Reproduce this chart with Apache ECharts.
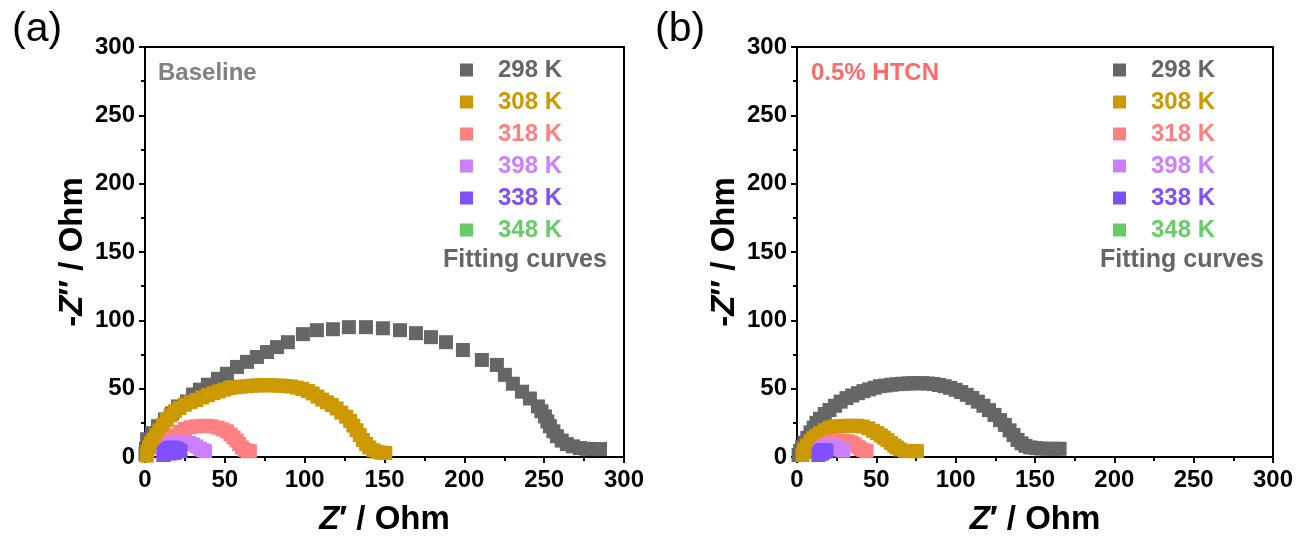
<!DOCTYPE html>
<html>
<head>
<meta charset="utf-8">
<script src="https://cdn.jsdelivr.net/npm/echarts@6/dist/echarts.min.js"></script>
<style>
  html, body { margin: 0; padding: 0; background: #fff; }
  #chart { width: 1301px; height: 541px; }
</style>
</head>
<body>
<div id="chart"></div>
<script>
// Nyquist plots (Z' vs -Z'') at several temperatures, two electrolytes.
const temperatures = ['298 K', '308 K', '318 K', '398 K', '338 K', '348 K'];
const tempColors = ['#666666', '#CC9900', '#FF8080', '#CC80FF', '#8050FF', '#66CC66'];
const axisTicks = [0, 50, 100, 150, 200, 250, 300];

// (a) Baseline electrolyte, [Z', -Z''] in Ohm
const base298 = [[0.3,2],[0.6,6],[1.3,13],[4.4,17.4],[8.1,22.5],[12.5,27.5],[16.9,31.9],[20.7,37],[26.3,40.6],[30.1,45.7],[34.4,49.3],[39.4,52.9],[45.7,57.2],[51.3,60.9],[57.6,65.9],[63.9,69.6],[70.1,73.2],[76.4,76.8],[82.7,80.4],[89.5,84],[98.9,89.9],[107.7,92.8],[117.7,93.5],[127.7,95],[138.4,95],[149,94.2],[159.7,92.8],[169.7,90.6],[179.1,87.7],[188.5,84],[199.1,78.3],[211,71],[220.4,67.4],[225.4,60.1],[230.4,53.6],[236.1,47.8],[241.1,42.8],[246.1,37],[248.3,33.5],[250.5,29.7],[252,26],[253.6,22.5],[255.8,18.8],[258,15.2],[261,12],[264.2,9.4],[268,7.8],[272.4,6.5],[276.5,6],[280.5,5.8],[285,5.8]];
const base308 = [[1,1],[1.5,4],[2.5,7],[3.8,10],[5.3,12.7],[7,16],[9,19.5],[11.2,23.5],[13.5,27.2],[16,30.5],[18.7,33.5],[21.6,35.9],[25,38.3],[28.5,40.2],[32.2,41.7],[35.8,43.5],[39.3,45.2],[42.9,46.7],[46.2,48],[49.6,49.3],[52.9,50.4],[56.5,51],[60,51.5],[63.6,51.8],[67,52.2],[70.5,52.4],[73.9,52.5],[77.5,52.5],[81,52.4],[84.5,52.2],[88,52],[91.5,51.6],[95,50.8],[98.5,49.8],[102,48.3],[105,46.5],[108,44.2],[111,42],[114,40],[117,38],[120,35.5],[123,32.5],[126,29.5],[128.5,26.5],[130.5,23],[132.5,19.6],[134.5,16],[136.5,12.5],[138.5,9.5],[140.5,7],[143,5],[145.5,3.8],[148,3.2],[150.5,3]];
const base318 = [[11.6,1.5],[12.2,4],[13.2,7],[14.5,10],[16.5,13],[19,16],[21.9,18.5],[25,20.5],[28.5,21.8],[32,22.5],[35.5,22.8],[38.8,22.8],[42,22.4],[45.5,21.5],[48.5,20.2],[51.3,18.8],[53.5,16.5],[55.5,14.3],[57.3,12],[59,9.5],[60.7,7],[62.5,5.2],[64.2,4.4],[65.7,4.2]];
const base398 = [[11.6,1.5],[12.2,3.5],[13.5,6],[15.2,8.2],[17.5,9.8],[20,10.8],[22.5,11.2],[25,11],[27.5,10.3],[30,9.2],[32.3,7.8],[34.3,6.2],[36,5],[37.6,4.3]];
const base338 = [[11.6,1.5],[12.2,3.5],[13.5,5.3],[15,6.4],[16.8,6.9],[18.5,6.7],[20,5.9],[21.2,4.9],[22.2,4.2],[15.5,2.5],[18.5,3]];
const base348 = [[13,3],[14.5,4],[16,4.5],[17.5,4.3],[19,3.8]];

// (b) 0.5% HTCN electrolyte, [Z', -Z''] in Ohm
const htcn298 = [[1,1.5],[2,4.5],[3.2,7.5],[4.7,10.5],[6.5,14],[8.5,18],[10.5,21.5],[12.3,25],[14.5,28],[17.5,31.5],[20.5,34.4],[24,37.5],[27.5,40.5],[31.2,43.1],[34.8,45],[38.4,46.7],[41.9,48.2],[45.5,49.5],[49,50.7],[52.3,51.8],[55.8,52.3],[59.5,52.9],[63,53.3],[66.5,53.6],[70,53.8],[73,54],[75.6,54],[79,54],[82.5,53.8],[86,53.4],[89.5,52.7],[93,51.8],[96.5,50.6],[100,49.2],[103.5,47.5],[107,45.5],[110.5,43.2],[114,40.5],[117.5,37.5],[121,34.3],[124.5,30.8],[128,27],[131,23.5],[134,19.5],[136.5,16],[139,12.5],[141.5,10],[144,8.2],[147,7],[150.5,6.5],[154,6.2],[158,6],[162,6],[165.5,6]];
const htcn308 = [[3.5,1.5],[4.2,3.5],[4.7,5.4],[6.5,8.5],[8.5,11.5],[10.3,13.8],[12.3,15.6],[14.5,17.5],[17.5,19.6],[20.5,21.4],[23.5,22.2],[27,22.6],[30.2,22.8],[34,22.9],[37.8,22.8],[41.5,22.3],[45,21],[47.9,19.2],[50.5,17.5],[52.8,15.8],[54.8,14.1],[57,12.3],[59.3,10.2],[61.3,8.3],[63,6.9],[65,5.5],[68,4.5],[71,4.3],[73.5,4.3],[75.6,4.3]];
const htcn318 = [[13.5,1.5],[14,3.5],[15,5.8],[16.5,7.8],[18.5,9.5],[21,10.8],[23.5,11.6],[26,12],[29,12],[32,11.5],[34.5,10.5],[36.5,9.2],[38.5,7.5],[40,6],[41.8,5],[43.8,4.3]];
const htcn398 = [[13.5,1.5],[14,3.5],[15,5.3],[16.5,6.8],[18.5,7.8],[20.5,8.3],[22.5,8.2],[24.5,7.5],[26.3,6.3],[27.8,5.2],[29.3,4.5]];
const htcn338 = [[13.5,1.5],[14,3.2],[15.2,4.6],[16.8,5.1],[18,4.8],[18.6,4.2],[16,2.5]];
const htcn348 = [[15,3.5],[16.3,4],[17.5,3.8]];

const baseSets = [base298, base308, base318, base398, base338, base348];
const htcnSets = [htcn298, htcn308, htcn318, htcn398, htcn338, htcn348];

const FONT = '"Liberation Sans", Arial, sans-serif';

function titleRich(size) {
  return {
    i: { fontFamily: FONT, fontSize: size, fontWeight: 'bold', fontStyle: 'italic', color: '#000' },
    n: { fontFamily: FONT, fontSize: size, fontWeight: 'bold', color: '#000' }
  };
}

function axisCommon(gridIndex) {
  return {
    type: 'value', gridIndex, min: axisTicks[0], max: axisTicks[axisTicks.length - 1],
    interval: axisTicks[1] - axisTicks[0],
    nameLocation: 'middle',
    axisLine: { show: true, onZero: false, lineStyle: { color: '#000', width: 2 } },
    axisTick: { show: true, inside: false, length: 6, lineStyle: { color: '#000', width: 2 } },
    minorTick: { show: true, splitNumber: 2, length: 4, lineStyle: { color: '#000', width: 2 } },
    splitLine: { show: false }
  };
}
function makeX(gridIndex) {
  return Object.assign(axisCommon(gridIndex), {
    name: '{i|Z}{n|\u2032 / Ohm}',
    nameGap: 46,
    nameTextStyle: { rich: titleRich(33) },
    axisLabel: { color: '#000', fontFamily: FONT, fontSize: 24, fontWeight: 'bold', margin: 11 }
  });
}
function makeY(gridIndex) {
  return Object.assign(axisCommon(gridIndex), {
    name: '{n|-}{i|Z}{n|\u2033 / Ohm}',
    nameGap: 56, nameRotate: 90,
    nameTextStyle: { rich: titleRich(33) },
    axisLabel: { color: '#000', fontFamily: FONT, fontSize: 24, fontWeight: 'bold', margin: 10 }
  });
}

function makeSeries(sets, gridIndex) {
  return temperatures.map((name, k) => ({
    name, type: 'scatter', xAxisIndex: gridIndex, yAxisIndex: gridIndex,
    data: sets[k], symbol: 'rect', symbolSize: 14, clip: true,
    z: name === '348 K' ? 1 : 2,
    itemStyle: { color: tempColors[k], opacity: 1 },
    emphasis: { disabled: true }
  }));
}

function makeLegend(left) {
  return {
    orient: 'vertical', left, top: 53, itemWidth: 13, itemHeight: 13, itemGap: 8,
    icon: 'rect', selectedMode: false,
    textStyle: { fontFamily: FONT, fontSize: 24, fontWeight: 'bold', padding: [0, 0, 0, 20] },
    data: temperatures.map((name, k) => ({ name, textStyle: { color: tempColors[k] } }))
  };
}

const chart = echarts.init(document.getElementById('chart'), null, { renderer: 'canvas' });
chart.setOption({
  animation: false,
  backgroundColor: '#fff',
  grid: [
    { left: 145, top: 47, width: 479, height: 414, show: true, borderColor: '#000', borderWidth: 2, containLabel: false },
    { left: 797, top: 47, width: 476, height: 414, show: true, borderColor: '#000', borderWidth: 2, containLabel: false }
  ],
  xAxis: [makeX(0), makeX(1)],
  yAxis: [makeY(0), makeY(1)],
  legend: [makeLegend(455), makeLegend(1108)],
  series: [...makeSeries(baseSets, 0), ...makeSeries(htcnSets, 1)],
  graphic: [
    { type: 'text', left: 12, top: 9, style: { text: '(a)', fontFamily: FONT, fontSize: 41, fill: '#000' } },
    { type: 'text', left: 655, top: 9, style: { text: '(b)', fontFamily: FONT, fontSize: 41, fill: '#000' } },
    { type: 'text', left: 158, top: 61, style: { text: 'Baseline', fontFamily: FONT, fontSize: 24, fontWeight: 'bold', fill: '#808080' } },
    { type: 'text', left: 811, top: 61, style: { text: '0.5% HTCN', fontFamily: FONT, fontSize: 24, fontWeight: 'bold', fill: '#FF6B6B' } },
    { type: 'text', left: 443, top: 248, style: { text: 'Fitting curves', fontFamily: FONT, fontSize: 25, fontWeight: 'bold', fill: '#666666' } },
    { type: 'text', left: 1100, top: 248, style: { text: 'Fitting curves', fontFamily: FONT, fontSize: 25, fontWeight: 'bold', fill: '#666666' } }
  ]
});
</script>
</body>
</html>
